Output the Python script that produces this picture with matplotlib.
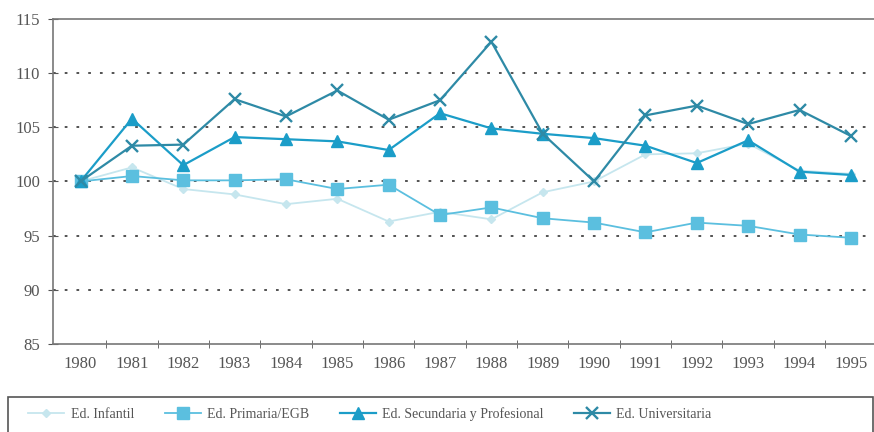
import matplotlib
matplotlib.use("Agg")
import matplotlib.pyplot as plt
from matplotlib.patches import Rectangle

years = list(range(1980, 1996))
infantil = [100.0, 101.3, 99.3, 98.8, 97.9, 98.4, 96.3, 97.2, 96.5, 99.0,
            100.0, 102.5, 102.6, 103.5, 101.0, 100.7]
primaria = [100.0, 100.5, 100.1, 100.1, 100.2, 99.3, 99.7, 96.9, 97.6, 96.6,
            96.2, 95.3, 96.2, 95.9, 95.1, 94.8]
secundaria = [100.0, 105.8, 101.5, 104.1, 103.9, 103.7, 102.9, 106.3, 104.9, 104.4,
              104.0, 103.3, 101.7, 103.8, 100.9, 100.6]
universitaria = [100.0, 103.3, 103.4, 107.6, 106.0, 108.4, 105.7, 107.5, 112.9, 104.4,
                 100.0, 106.1, 107.0, 105.3, 106.6, 104.2]
labels = ["Ed. Infantil", "Ed. Primaria/EGB", "Ed. Secundaria y Profesional",
          "Ed. Universitaria"]
yticks = [85, 90, 95, 100, 105, 110, 115]

plt.rcParams["font.family"] = ["Liberation Serif", "DejaVu Serif"]

fig = plt.figure(figsize=(8.74, 4.32), dpi=100)
ax = fig.add_axes([0.061, 0.204, 0.939, 0.752])

ax.plot(years, infantil, color="#c6e6ee", marker="D", ms=4.5, lw=1.3, label=labels[0], zorder=2)
ax.plot(years, primaria, color="#5bbfdf", marker="s", ms=8, lw=1.3, label=labels[1], zorder=3)
ax.plot(years, secundaria, color="#1b9dc8", marker="^", ms=8, lw=1.6, label=labels[2], zorder=4)
ax.plot(years, universitaria, color="#2e8aa6", marker="x", ms=9, mew=1.7, lw=1.6,
        label=labels[3], zorder=5)

ax.set_xlim(1979.47, 1995.45)
ax.set_ylim(85, 115)
ax.set_yticks(yticks)
for v in yticks[1:-1]:
    ax.axhline(v, color="#444444", ls=(0, (1.5, 5)), lw=1.3, zorder=1)

ax.set_xticks(years)
ax.set_xticks([y + 0.5 for y in years[:-1]], minor=True)
ax.tick_params(axis="x", which="major", length=0, pad=9, labelsize=12, colors="#555555")
ax.tick_params(axis="x", which="minor", direction="inout", length=6, color="#555555")
ax.tick_params(axis="y", direction="inout", length=7, labelsize=12, colors="#555555", pad=6)

ax.spines["right"].set_visible(False)
for side in ("left", "bottom", "top"):
    ax.spines[side].set_color("#777777")
    ax.spines[side].set_linewidth(1.2)

fig.patches.append(Rectangle((0.009, -0.05), 0.99, 0.132, transform=fig.transFigure,
                             fill=False, edgecolor="#555555", lw=1.2))
fig.legend(loc="center left", bbox_to_anchor=(0.018, 0.042), ncol=4, frameon=False,
           fontsize=10, columnspacing=2.2, handlelength=2.6, handletextpad=0.45,
           labelcolor="#555555")

fig.savefig("out.png", dpi=100)
